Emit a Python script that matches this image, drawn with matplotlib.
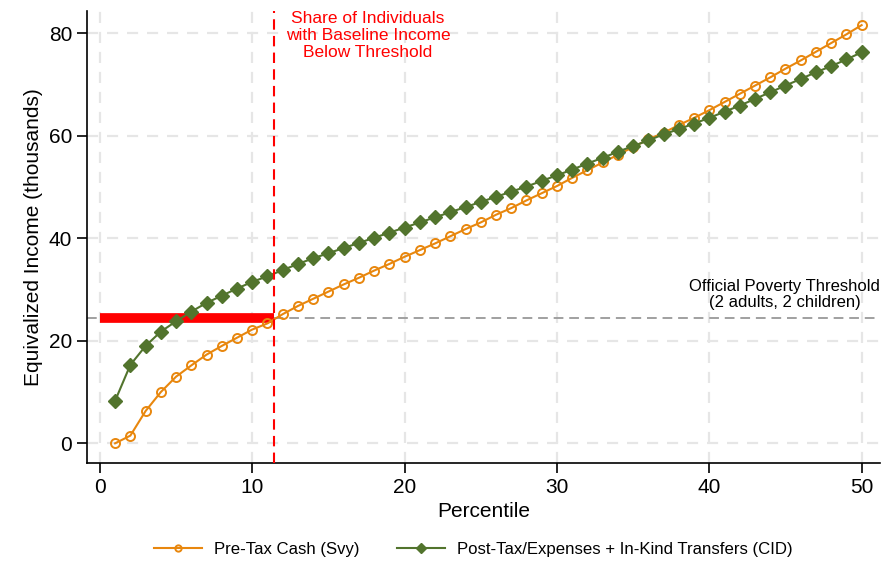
import matplotlib.pyplot as plt

plt.rcParams['font.family'] = ['Liberation Sans', 'DejaVu Sans']

percentile = list(range(1, 51))

pre_tax = [0.0, 1.5, 6.3, 10.0, 13.0, 15.2, 17.3, 19.0, 20.6, 22.2,
           23.4, 25.2, 26.8, 28.2, 29.6, 31.0, 32.3, 33.7, 35.0, 36.4,
           37.7, 39.0, 40.4, 41.8, 43.1, 44.6, 45.9, 47.4, 48.8, 50.2,
           51.8, 53.3, 54.8, 56.3, 57.8, 59.3, 60.6, 62.1, 63.5, 65.0,
           66.6, 68.2, 69.8, 71.4, 73.1, 74.7, 76.4, 78.1, 79.8, 81.6]

post_tax = [8.3, 15.3, 19.0, 21.8, 23.8, 25.7, 27.4, 28.8, 30.2, 31.5,
            32.6, 33.8, 35.0, 36.1, 37.1, 38.1, 39.1, 40.1, 41.1, 42.1,
            43.1, 44.1, 45.1, 46.1, 47.1, 48.1, 49.1, 50.1, 51.2, 52.3,
            53.4, 54.6, 55.7, 56.9, 58.0, 59.1, 60.3, 61.3, 62.4, 63.5,
            64.7, 65.9, 67.2, 68.5, 69.8, 71.1, 72.4, 73.6, 74.9, 76.3]

threshold = 24.4      # official poverty line, 2 adults 2 children
share_below = 11.4    # percentile where baseline income crosses the line

orange = '#E8870E'
green = '#52742D'

fig = plt.figure(figsize=(8.87, 5.65), dpi=100)
ax = fig.add_axes([0.098, 0.18, 0.894, 0.80])

# dashed grid
for x in range(0, 51, 10):
    ax.axvline(x, color='#e6e6e6', lw=1.6, ls=(0, (5, 4)), zorder=0)
for y in range(0, 81, 20):
    ax.axhline(y, color='#e6e6e6', lw=1.6, ls=(0, (5, 4)), zorder=0)

ax.axhline(threshold, color='#a0a0a0', lw=1.4, ls=(0, (5, 3)), zorder=1)
ax.plot([0, share_below], [threshold, threshold], color='red', lw=7,
        solid_capstyle='butt', zorder=2)
ax.axvline(share_below, color='red', lw=1.5, ls=(0, (5, 3)), zorder=4)

ax.plot(percentile, pre_tax, color=orange, lw=1.5, marker='o', ms=6.5,
        mfc='none', mew=1.4, label='Pre-Tax Cash (Svy)', zorder=3)
ax.plot(percentile, post_tax, color=green, lw=1.5, marker='D', ms=7,
        label='Post-Tax/Expenses + In-Kind Transfers (CID)', zorder=3)

ax.text(17.6, 84.3, 'Share of Individuals\nwith Baseline Income\nBelow Threshold',
        color='red', fontsize=12.5, ha='center', va='top', linespacing=1.15)
ax.text(51.2, 26.0, 'Official Poverty Threshold\n(2 adults, 2 children)',
        color='black', fontsize=12, ha='right', va='bottom', linespacing=1.05,
        multialignment='center')

ax.set_xlim(-0.85, 51.2)
ax.set_ylim(-3.9, 84.3)
ax.set_xticks(range(0, 51, 10))
ax.set_yticks(range(0, 81, 20))
ax.tick_params(labelsize=15, length=7, width=1.2)
ax.spines['top'].set_visible(False)
ax.spines['right'].set_visible(False)
for s in ('left', 'bottom'):
    ax.spines[s].set_linewidth(1.2)

ax.set_xlabel('Percentile', fontsize=15)
ax.set_ylabel('Equivalized Income (thousands)', fontsize=15)

ax.legend(loc='upper center', bbox_to_anchor=(0.487, -0.14), ncol=2,
          frameon=False, fontsize=12.1, markerscale=0.7, columnspacing=2.2,
          handlelength=2.9, handletextpad=0.7)

fig.savefig('out.png', dpi=100)
